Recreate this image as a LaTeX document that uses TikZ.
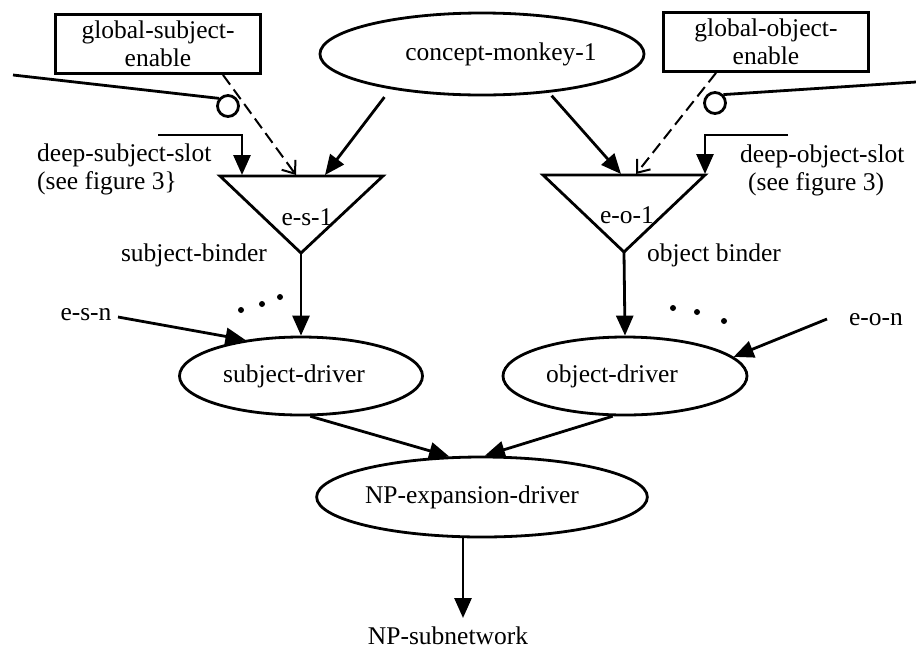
\documentclass[tikz,border=0pt]{standalone}
\usepackage{fontspec}
\setmainfont{Liberation Serif}
\usetikzlibrary{arrows.meta,shapes.geometric}
\newcommand{\dfs}{\fontsize{25.5}{28}\selectfont}
\begin{document}
\begin{tikzpicture}[x=1pt,y=-1pt,
  lw/.style={line width=2.8pt},
  box/.style={draw,line width=2.8pt,minimum width=205pt,minimum height=59pt,inner sep=0pt,align=center,font=\dfs},
  ell/.style={draw,ellipse,line width=2.8pt,minimum width=244pt,minimum height=80pt,inner sep=0pt,font=\dfs},
  txt/.style={font=\dfs,inner sep=0pt},
  arr/.style={line width=2.8pt,-{Triangle[length=20pt,width=17pt]}},
  darr/.style={line width=2pt,dash pattern=on 12pt off 6pt,-{Straight Barb[length=11pt,width=17pt]}},
  dotc/.style={fill,circle,inner sep=0pt,minimum size=6pt},
  ring/.style={draw,circle,line width=2.8pt,minimum size=21pt,inner sep=0pt}
]
\useasboundingbox (0,0) rectangle (916,649);

% boxes
\node[box] (gse) at (158,44) {global-subject-\\enable};
\node[box] (goe) at (766,42) {global-object-\\enable};

% concept ellipse
\node[ell,minimum width=244pt,minimum height=82pt] (cm) at (482,54) {\hspace*{38pt}concept-monkey-1};

% inhibitory rings
\node[ring] (c1) at (228,106) {};
\node[ring] (c2) at (715,103) {};
\coordinate (l1) at (13,75);
\coordinate (r1) at (916,82);
\draw[lw] (l1) -- (c1.140);
\draw[lw] (r1) -- (c2.45);

% triangles
\coordinate (t1l) at (220,176);
\coordinate (t1r) at (383,176);
\coordinate (t1a) at (301,253);
\coordinate (t2l) at (543,175);
\coordinate (t2r) at (705,175);
\coordinate (t2a) at (624,252);
\draw[lw,line join=miter] (t1l) -- (t1r) -- (t1a) -- cycle;
\draw[lw,line join=miter] (t2l) -- (t2r) -- (t2a) -- cycle;
\node[txt] (es1) at (307,217) {e-s-1};
\node[txt] (eo1) at (627,215) {e-o-1};

% arrow targets on triangle tops
\coordinate (ct1) at (325,175);
\coordinate (dt1) at (296,175);
\coordinate (ds1) at (242,175);
\coordinate (ct2) at (621,174);
\coordinate (dt2) at (636,174);
\coordinate (ds2) at (705,174);

% concept arrows
\draw[arr,shorten <=10pt] (cm.201) -- (ct1);
\draw[arr,shorten <=4pt] (cm.330) -- (ct2);

% dashed enable arrows
\draw[darr] ([xshift=65pt]gse.south) -- (dt1);
\draw[darr] ([xshift=-50pt]goe.south) -- (dt2);

% deep slots
\coordinate (dss) at (158,135);
\coordinate (dos) at (788,135);
\draw[arr] (dss) -| (ds1);
\draw[arr] (dos) -| (ds2);
\node[txt,anchor=west,align=left] (dslab) at (37,169) {deep-subject-slot\\(see figure 3\}};
\node[txt,anchor=west,align=left] (doslab) at (740,170) {deep-object-slot\\\hspace*{8pt}(see figure 3)};

% binder labels
\node[txt] (sbl) at (194,255) {subject-binder};
\node[txt] (obl) at (714,255) {object binder};

% drivers
\node[ell,minimum width=243pt,minimum height=78pt] (sd) at (301,376) {subject-driver\hspace*{14pt}};
\node[ell,minimum width=244pt,minimum height=78pt] (od) at (625,376) {object-driver\hspace*{26pt}};
\draw[arr] (t1a) -- (sd.north);
\draw[arr] (t2a) -- (od.north);

% e-s-n / e-o-n
\node[txt] (esn) at (86,315) {e-s-n};
\node[txt] (eon) at (876,320) {e-o-n};
\draw[arr] (118,317) -- (sd.147);
\draw[arr] (827,319) -- (od.10);

% dots
\node[dotc] (d1) at (241,310) {};
\node[dotc] (d2) at (262,304) {};
\node[dotc] (d3) at (280,297) {};
\node[dotc] (d4) at (673,308) {};
\node[dotc] (d5) at (697,312) {};
\node[dotc] (d6) at (724,321) {};

% NP expansion driver
\node[ell,minimum width=244pt,minimum height=80pt] (np) at (482,497) {NP-expansion-driver\hspace*{20pt}};
\draw[arr] (sd.283) -- (np.129);
\draw[arr] (od.253) -- (np.86);

% NP subnetwork
\coordinate (nps) at (463,618);
\draw[arr] (np.south -| nps) -- (nps);
\node[txt] (npsub) at (448,636) {NP-subnetwork};
\end{tikzpicture}
\end{document}
